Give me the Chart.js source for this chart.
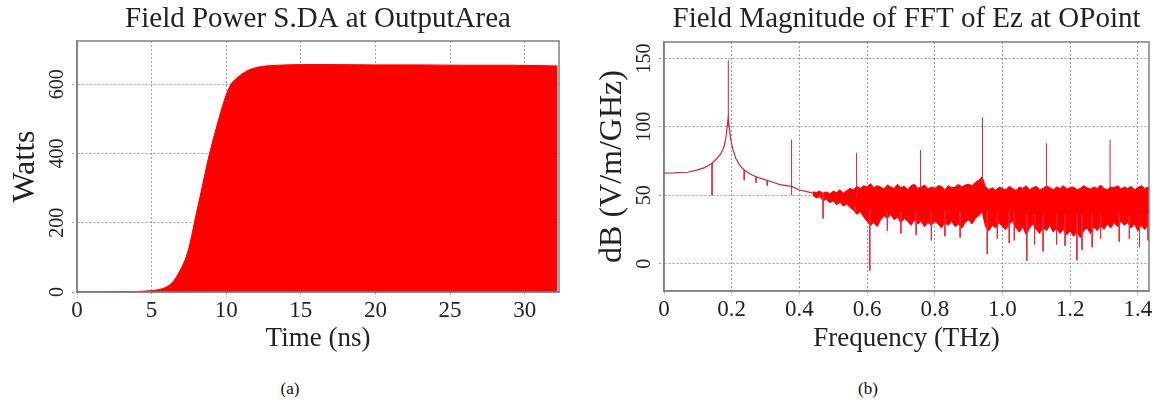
<!DOCTYPE html>
<html>
<head>
<meta charset="utf-8">
<script src="https://cdn.jsdelivr.net/npm/chart.js@4.4.1/dist/chart.umd.min.js"></script>
<style>
  html, body { margin: 0; padding: 0; background: #fff; }
  body { width: 1152px; height: 405px; position: relative; overflow: hidden; font-family: 'Liberation Serif', serif; }
  #left { position: absolute; left: 0; top: 0; }
  #right { position: absolute; left: 580px; top: 0; }
  .cap { position: absolute; top: 379px; font-size: 17px; color: #111; transform: translateX(-50%); }
</style>
</head>
<body>
<canvas id="left" width="580" height="360"></canvas>
<canvas id="right" width="572" height="360"></canvas>
<div class="cap" style="left:290px">(a)</div>
<div class="cap" style="left:868px">(b)</div>
<script>
// (a) output power vs time
const powerTime  = [0, 2, 3, 4, 5, 5.5, 5.75, 6, 6.25, 6.5, 6.75, 7, 7.25, 7.5, 7.75, 8, 8.25, 8.5, 8.75, 9, 9.25, 9.5, 9.75,
                    10, 10.25, 10.5, 10.75, 11, 11.5, 12, 12.5, 13, 13.5, 15, 17, 20, 23, 26, 29, 31, 32.2];
const powerWatts = [0, 0, 0.5, 1.5, 4, 7, 10, 15, 22, 33, 50, 70, 94, 128, 176, 228, 276, 327, 376, 420, 461, 500, 537,
                    570, 595, 610, 619, 628, 641, 648, 652, 654, 655, 657, 657, 656, 656, 655, 655, 654, 653];

// (b) FFT magnitude, smooth low-frequency part
const fftFreq = [0, 0.03, 0.07, 0.1, 0.12, 0.14, 0.155, 0.167, 0.175, 0.18, 0.184, 0.187, 0.19, 0.193, 0.197, 0.203, 0.212, 0.225, 0.237,
                 0.255, 0.272, 0.3, 0.322, 0.342, 0.377, 0.4, 0.422, 0.44];
const fftDb   = [66.2, 66.3, 66.8, 68.5, 70.2, 73, 76.5, 80, 84, 88, 94, 101, 107, 99, 91, 84, 77, 71.5, 68.5,
                 65.5, 63.5, 61.2, 59.5, 57.8, 56.5, 53.8, 52.6, 51.5];

// noisy band above ~0.44 THz (upper / lower edge)
const bandFreq = [0.44, 0.45, 0.46, 0.47, 0.48, 0.49, 0.50, 0.51, 0.52, 0.53, 0.54, 0.55, 0.56, 0.57, 0.58, 0.59,
                  0.60, 0.61, 0.62, 0.63, 0.64, 0.65, 0.66, 0.67, 0.68, 0.69, 0.70, 0.71, 0.72, 0.73, 0.74, 0.75,
                  0.76, 0.77, 0.78, 0.79, 0.80, 0.81, 0.82, 0.83, 0.84, 0.85, 0.86, 0.87, 0.88, 0.89, 0.90, 0.91,
                  0.92, 0.93, 0.94, 0.95, 0.96, 0.97, 0.98, 0.99, 1.00, 1.01, 1.02, 1.03, 1.04, 1.05, 1.06, 1.07,
                  1.08, 1.09, 1.10, 1.11, 1.12, 1.13, 1.14, 1.15, 1.16, 1.17, 1.18, 1.19, 1.20, 1.21, 1.22, 1.23,
                  1.24, 1.25, 1.26, 1.27, 1.28, 1.29, 1.30, 1.31, 1.32, 1.33, 1.34, 1.35, 1.36, 1.37, 1.38, 1.39,
                  1.40, 1.41, 1.42, 1.433];
const bandHigh = [52.5, 52, 53, 51.5, 52.5, 51, 53, 52, 54, 51.5, 53.5, 55, 54, 56.5, 55, 57,
                  56, 58.5, 55.5, 57, 56, 54.5, 57.5, 56, 55, 58, 55.5, 56.5, 54, 57, 58, 55,
                  56, 57.5, 54.5, 56, 55, 57, 56.5, 54, 57, 55.5, 56, 58, 56, 57.5, 58, 57,
                  59.5, 61, 63.5, 56, 54, 55.5, 53.5, 56, 55, 54, 56.5, 55, 53.5, 56, 55, 57,
                  54, 55.5, 56.5, 54, 55, 57, 55.5, 54, 56, 55, 57, 54.5, 55.5, 56, 54, 55,
                  57, 55.5, 54.5, 56, 55, 57.5, 55, 54, 56, 55.5, 57, 54.5, 56, 55, 56.5, 54,
                  55.5, 57, 55, 56];
const bandLow  = [50, 48, 49, 46, 47, 44.5, 46, 43, 45, 42, 43.5, 41, 39, 36, 38, 34,
                  31, 28, 30, 27, 32, 35, 33, 36, 32, 34, 30, 33, 31, 28, 32, 29,
                  31, 27, 30, 28, 31, 29, 26, 30, 28, 31, 27, 29, 26, 30, 32, 29,
                  33, 35, 38, 27, 24, 28, 26, 30, 27, 25, 29, 31, 26, 23, 27, 21,
                  26, 29, 25, 22, 27, 24, 28, 23, 26, 22, 25, 21, 24, 20, 23, 19,
                  24, 26, 22, 27, 24, 28, 25, 29, 26, 30, 27, 31, 28, 30, 26, 29,
                  24, 28, 25, 29];

// isolated spectral lines
const spikeFreq = [0.19, 0.377, 0.569, 0.758, 0.941, 1.13, 1.318];
const spikeBase = [100, 50, 48, 54, 60, 54, 55];
const spikeTop  = [149, 90.7, 81, 83, 107, 88, 90.6];

// downward dips
const dipFreq   = [0.142, 0.237, 0.272, 0.305, 0.47, 0.565, 0.608, 0.66, 0.70, 0.745, 0.79, 0.83, 0.875, 0.955, 0.985,
                   1.02, 1.035, 1.072, 1.095, 1.12, 1.16, 1.185, 1.22, 1.235, 1.265, 1.29, 1.345, 1.375, 1.405, 1.43];
const dipTop    = [73.5, 68.5, 63.5, 60.5, 51, 42, 40, 38, 38, 38, 38, 38, 38, 40, 38,
                   38, 38, 36, 36, 36, 36, 36, 36, 36, 36, 36, 36, 36, 36, 36];
const dipBottom = [50, 61, 59, 57, 33, 38, -5, 24, 22, 21, 17, 20, 19, 7, 18,
                   15, 17, 2, 14, 9, 14, 13, 2.5, 10, 12, 18, 16, 18, 12, 17];

const SERIF  = "'Liberation Serif', 'Times New Roman', serif";
const INK    = '#222';
const GRID   = '#9a9a9a';
const BORDER = '#808080';
const RED    = '#ff0000';
const LINE   = '#c8283c';

function fixBox(size) {
  return scale => {
    if (scale.isHorizontal()) {
      scale.height = size;
      scale.paddingLeft = 0;
      scale.paddingRight = 0;
    } else {
      scale.width = size;
      scale.paddingTop = 0;
      scale.paddingBottom = 0;
    }
  };
}

function pts(xs, ys) {
  return xs.map((x, i) => ({ x, y: ys[i] }));
}

// vertical strokes: (x, a) -> (x, b), separated by gaps
function segs(xs, a, b) {
  const out = [];
  xs.forEach((x, i) => {
    out.push({ x, y: a[i] }, { x, y: b[i] }, { x, y: null });
  });
  return out;
}

const frame = {
  id: 'frame',
  afterDatasetsDraw(chart) {
    const { ctx, chartArea: a } = chart;
    ctx.save();
    ctx.strokeStyle = BORDER;
    ctx.lineWidth = 1.5;
    ctx.strokeRect(a.left, a.top, a.right - a.left, a.bottom - a.top);
    ctx.restore();
  }
};

function axis(opts) {
  const horiz = opts.horiz;
  return {
    type: 'linear',
    min: opts.min,
    max: opts.max,
    afterFit: fixBox(opts.size),
    ticks: Object.assign({
      stepSize: opts.step,
      includeBounds: false,
      color: INK,
      font: { family: SERIF, size: horiz ? 23 : 20 },
    }, horiz
      ? { maxRotation: 0, padding: 0 }
      : { minRotation: 90, maxRotation: 90, crossAlign: 'center', padding: -1 },
      opts.callback ? { callback: opts.callback } : {}),
    grid: { color: GRID, lineWidth: 1, tickLength: 5, tickColor: GRID, tickBorderDash: [2, 2] },
    border: { display: true, color: BORDER, width: 1.5, dash: [2, 2] },
    title: {
      display: true,
      text: opts.title,
      color: INK,
      font: { family: SERIF, size: horiz ? 27 : 32 },
      padding: horiz ? { top: 0, bottom: 5 } : { top: opts.titlePad, bottom: 0 },
    }
  };
}

function baseOptions(titleText, padRight, xAxis, yAxis) {
  return {
    responsive: false,
    animation: false,
    layout: { padding: { left: 0, right: padRight, top: 0, bottom: 0 } },
    plugins: {
      legend: { display: false },
      tooltip: { enabled: false },
      title: {
        display: true,
        fullSize: false,
        text: titleText,
        color: INK,
        font: { family: SERIF, size: 29, weight: 'normal' },
        padding: { top: 2, bottom: 4.2 },
      }
    },
    scales: { x: xAxis, y: yAxis }
  };
}

new Chart(document.getElementById('left'), {
  type: 'line',
  data: {
    datasets: [{
      data: pts(powerTime, powerWatts),
      borderColor: RED,
      backgroundColor: RED,
      borderWidth: 1,
      fill: 'origin',
      pointRadius: 0,
      cubicInterpolationMode: 'monotone',
    }]
  },
  options: baseOptions('Field Power S.DA at OutputArea', 21,
    axis({ horiz: true, min: 0, max: 32.3, step: 5, size: 68, title: 'Time (ns)' }),
    axis({ horiz: false, min: 0, max: 725, step: 200, size: 77, title: 'Watts', titlePad: 6 })),
  plugins: [frame],
});

const rightOpts = baseOptions('Field Magnitude of FFT of Ez at OPoint', 3,
  axis({ horiz: true, min: 0, max: 1.433, step: 0.2, size: 69, title: 'Frequency (THz)',
         callback: v => (v === 0 ? '0' : v.toFixed(1)) }),
  axis({ horiz: false, min: -20, max: 162, step: 50, size: 84, title: 'dB (V/m/GHz)', titlePad: 13 }));
rightOpts.plugins.title.padding = { top: 2, bottom: 5.2 };

new Chart(document.getElementById('right'), {
  type: 'line',
  data: {
    datasets: [
      { data: segs(spikeFreq, spikeBase, spikeTop), borderColor: LINE, borderWidth: 1, pointRadius: 0, spanGaps: false, fill: false },
      { data: segs(dipFreq, dipTop, dipBottom), borderColor: '#e8283c', borderWidth: 1, pointRadius: 0, spanGaps: false, fill: false },
      { data: pts(fftFreq, fftDb), borderColor: LINE, borderWidth: 1.2, pointRadius: 0, fill: false },
      { data: pts(bandFreq, bandHigh), borderColor: RED, backgroundColor: RED, borderWidth: 1, pointRadius: 0, fill: '+1' },
      { data: pts(bandFreq, bandLow), borderColor: RED, borderWidth: 1, pointRadius: 0, fill: false },
    ]
  },
  options: rightOpts,
  plugins: [frame],
});
</script>
</body>
</html>
